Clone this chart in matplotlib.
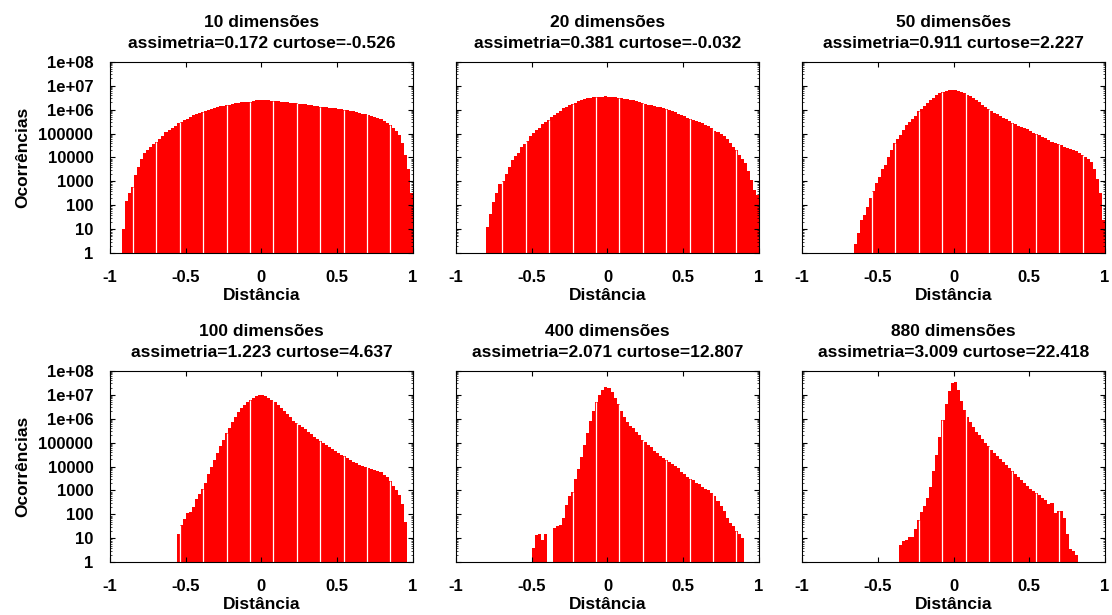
import numpy as np
import matplotlib
matplotlib.use("Agg")
import matplotlib.pyplot as plt
from matplotlib.ticker import LogLocator, FuncFormatter, NullFormatter

plt.rcParams['font.family'] = ['Liberation Sans', 'DejaVu Sans']
plt.rcParams['font.weight'] = 'bold'
plt.rcParams['axes.unicode_minus'] = False

# dados: log10 das ocorrencias por bin de 0.02 (de -1 a 1, 100 bins)
# 0 -> 1 ocorrencia (bin vazio no eixo log)
DIMS = [10, 20, 50, 100, 400, 880]
SKEW = [0.172, 0.381, 0.911, 1.223, 2.071, 3.009]
KURT = [-0.526, -0.032, 2.227, 4.637, 12.807, 22.418]

LOG_N10 = [0, 0, 0, 0, 1.0, 2.2, 2.5, 2.75, 3.25, 3.6,
           3.95, 4.2, 4.3, 4.42, 4.55, 4.63, 4.78, 4.9, 5.05, 5.15,
           5.25, 5.33, 5.42, 5.48, 5.55, 5.62, 5.7, 5.76, 5.8, 5.85,
           5.9, 5.95, 5.99, 6.04, 6.08, 6.1, 6.13, 6.16, 6.19, 6.21,
           6.24, 6.26, 6.28, 6.3, 6.31, 6.32, 6.33, 6.36, 6.38, 6.39,
           6.39, 6.39, 6.38, 6.37, 6.36, 6.35, 6.33, 6.31, 6.3, 6.29,
           6.28, 6.26, 6.25, 6.24, 6.22, 6.2, 6.18, 6.16, 6.14, 6.12,
           6.11, 6.09, 6.08, 6.06, 6.05, 6.03, 6.01, 6.0, 5.97, 5.95,
           5.92, 5.9, 5.86, 5.83, 5.8, 5.77, 5.74, 5.7, 5.65, 5.6,
           5.53, 5.45, 5.35, 5.25, 5.1, 4.92, 4.6, 4.1, 3.5, 2.5]

LOG_N20 = [0, 0, 0, 0, 0, 0, 0, 0, 0, 0,
           1.1, 1.65, 2.15, 2.5, 2.9, 3.0, 3.3, 3.6, 3.9, 4.05,
           4.2, 4.42, 4.55, 4.7, 4.9, 5.02, 5.15, 5.25, 5.38, 5.47,
           5.58, 5.7, 5.78, 5.87, 5.95, 6.05, 6.12, 6.18, 6.23, 6.28,
           6.34, 6.39, 6.44, 6.49, 6.5, 6.51, 6.52, 6.53, 6.54, 6.55,
           6.53, 6.52, 6.51, 6.5, 6.48, 6.46, 6.44, 6.42, 6.39, 6.36,
           6.32, 6.28, 6.24, 6.21, 6.19, 6.15, 6.12, 6.1, 6.07, 6.04,
           6.0, 5.93, 5.88, 5.82, 5.77, 5.72, 5.66, 5.62, 5.57, 5.53,
           5.49, 5.42, 5.35, 5.3, 5.22, 5.12, 5.05, 4.98, 4.9, 4.78,
           4.62, 4.45, 4.3, 4.12, 3.95, 3.75, 3.45, 3.05, 2.65, 2.42]

LOG_N50 = [0, 0, 0, 0, 0, 0, 0, 0, 0, 0,
           0, 0, 0, 0, 0, 0, 0, 0.4, 0.85, 1.4,
           1.6, 1.95, 2.3, 2.6, 2.95, 3.2, 3.5, 3.7, 4.0, 4.3,
           4.6, 4.75, 4.95, 5.15, 5.35, 5.48, 5.6, 5.75, 5.92, 6.02,
           6.15, 6.28, 6.4, 6.5, 6.6, 6.68, 6.73, 6.78, 6.81, 6.82,
           6.82, 6.79, 6.74, 6.68, 6.62, 6.55, 6.48, 6.38, 6.3, 6.2,
           6.1, 6.02, 5.95, 5.87, 5.8, 5.72, 5.65, 5.6, 5.52, 5.45,
           5.39, 5.32, 5.27, 5.22, 5.17, 5.1, 5.03, 4.98, 4.92, 4.86,
           4.8, 4.72, 4.65, 4.6, 4.56, 4.5, 4.45, 4.4, 4.35, 4.3,
           4.25, 4.2, 4.12, 4.0, 3.92, 3.8, 3.5, 3.1, 2.5, 1.4]

LOG_N100 = [0, 0, 0, 0, 0, 0, 0, 0, 0, 0,
            0, 0, 0, 0, 0, 0, 0, 0, 0, 0,
            0, 0, 1.2, 1.55, 1.82, 2.05, 2.1, 2.3, 2.65, 2.85,
            3.05, 3.3, 3.7, 4.0, 4.28, 4.55, 4.85, 5.1, 5.4, 5.6,
            5.88, 6.08, 6.28, 6.45, 6.58, 6.7, 6.78, 6.87, 6.95, 6.99,
            7.0, 6.95, 6.88, 6.8, 6.68, 6.58, 6.45, 6.33, 6.2, 6.06,
            5.92, 5.8, 5.72, 5.64, 5.55, 5.45, 5.36, 5.25, 5.15, 5.06,
            4.98, 4.88, 4.8, 4.72, 4.63, 4.55, 4.48, 4.42, 4.34, 4.28,
            4.2, 4.15, 4.08, 4.03, 3.98, 3.95, 3.9, 3.87, 3.82, 3.76,
            3.65, 3.55, 3.38, 3.2, 3.0, 2.8, 2.45, 1.7, 0, 0]

LOG_N400 = [0, 0, 0, 0, 0, 0, 0, 0, 0, 0,
            0, 0, 0, 0, 0, 0, 0, 0, 0, 0,
            0, 0, 0, 0, 0, 0.6, 1.14, 1.2, 0.95, 1.2,
            0, 0, 1.45, 1.5, 1.55, 1.85, 2.4, 2.75, 2.95, 3.5,
            3.9, 4.4, 4.9, 5.4, 5.9, 6.3, 6.7, 7.0, 7.2, 7.33,
            7.3, 7.12, 6.85, 6.6, 6.3, 6.05, 5.85, 5.7, 5.6, 5.45,
            5.3, 5.12, 5.02, 4.92, 4.8, 4.66, 4.55, 4.45, 4.36, 4.28,
            4.18, 4.1, 4.02, 3.92, 3.78, 3.68, 3.58, 3.48, 3.42, 3.32,
            3.25, 3.15, 3.08, 3.0, 2.88, 2.75, 2.55, 2.35, 2.15, 1.85,
            1.65, 1.5, 1.31, 1.2, 1.0, 0, 0, 0, 0, 0]

LOG_N880 = [0, 0, 0, 0, 0, 0, 0, 0, 0, 0,
            0, 0, 0, 0, 0, 0, 0, 0, 0, 0,
            0, 0, 0, 0, 0, 0, 0, 0, 0, 0,
            0, 0, 0.72, 0.87, 0.95, 1.07, 1.05, 1.4, 1.77, 2.1,
            2.35, 2.68, 3.15, 3.8, 4.5, 5.25, 5.95, 6.6, 7.15, 7.48,
            7.55, 7.2, 6.75, 6.35, 6.05, 5.85, 5.65, 5.46, 5.3, 5.15,
            5.0, 4.85, 4.7, 4.57, 4.45, 4.3, 4.18, 4.05, 3.93, 3.8,
            3.68, 3.55, 3.43, 3.3, 3.2, 3.08, 2.97, 2.88, 2.8, 2.7,
            2.6, 2.42, 2.47, 2.05, 2.16, 2.16, 1.85, 1.2, 0.55, 0.47,
            0.3, 0, 0, 0, 0, 0, 0, 0, 0, 0]

XTICKS = [-1, -0.5, 0, 0.5, 1]

BIN_W = 0.02
# listras brancas do raster original (artefato do gnuplot)
GAP_X0 = -0.848
GAP_DX = 0.1545
RED = '#ff0000'

edges = np.round(np.arange(-1, 1 + BIN_W / 2, BIN_W), 3)
hists = [LOG_N10, LOG_N20, LOG_N50, LOG_N100, LOG_N400, LOG_N880]

fig, axes = plt.subplots(2, 3, figsize=(11.12, 6.15), dpi=100)
fig.subplots_adjust(left=0.0989, right=0.9937, bottom=0.0857, top=0.8997,
                    wspace=0.143, hspace=0.614)

for k, ax in enumerate(axes.flat):
    counts = 10 ** np.array(hists[k], dtype=float)
    ax.stairs(counts, edges, baseline=1, fill=True, color=RED, lw=0)

    gx = GAP_X0 + GAP_DX * np.arange(12)
    idx = np.clip(np.searchsorted(edges, gx) - 1, 0, len(counts) - 1)
    h = counts[idx]
    m = h > 1.01
    ax.vlines(gx[m], 1, h[m], color='white', lw=0.9)

    ax.set_yscale('log')
    ax.set_xlim(-1, 1)
    ax.set_ylim(1, 1e8)
    ax.set_xticks(XTICKS)
    ax.xaxis.set_major_formatter(FuncFormatter(lambda v, _: f"{v:g}"))
    ax.yaxis.set_major_locator(LogLocator(base=10, numticks=12))
    ax.yaxis.set_minor_locator(LogLocator(base=10, subs=np.arange(2, 10), numticks=12))
    ax.yaxis.set_minor_formatter(NullFormatter())
    if k % 3 == 0:
        ax.yaxis.set_major_formatter(FuncFormatter(lambda v, _: f"{v:g}"))
        ax.set_ylabel("Ocorrências", fontsize=12.5, fontweight='bold', labelpad=6)
    else:
        ax.yaxis.set_major_formatter(NullFormatter())

    ax.tick_params(which='both', direction='in', top=True, right=True,
                   labelsize=12, pad=12, color='black')
    ax.tick_params(which='major', length=3.5, width=0.8)
    ax.tick_params(which='minor', length=1.5, width=0.5)
    for s in ax.spines.values():
        s.set_linewidth(0.8)
        s.set_color('black')

    ax.set_xlabel("Distância", fontsize=12.5, fontweight='bold', labelpad=2)
    ax.set_title(f"{DIMS[k]} dimensões\nassimetria={SKEW[k]:.3f} curtose={KURT[k]:.3f}",
                 fontsize=12.5, fontweight='bold', pad=10, linespacing=1.5)

fig.savefig("out.png", dpi=100)
